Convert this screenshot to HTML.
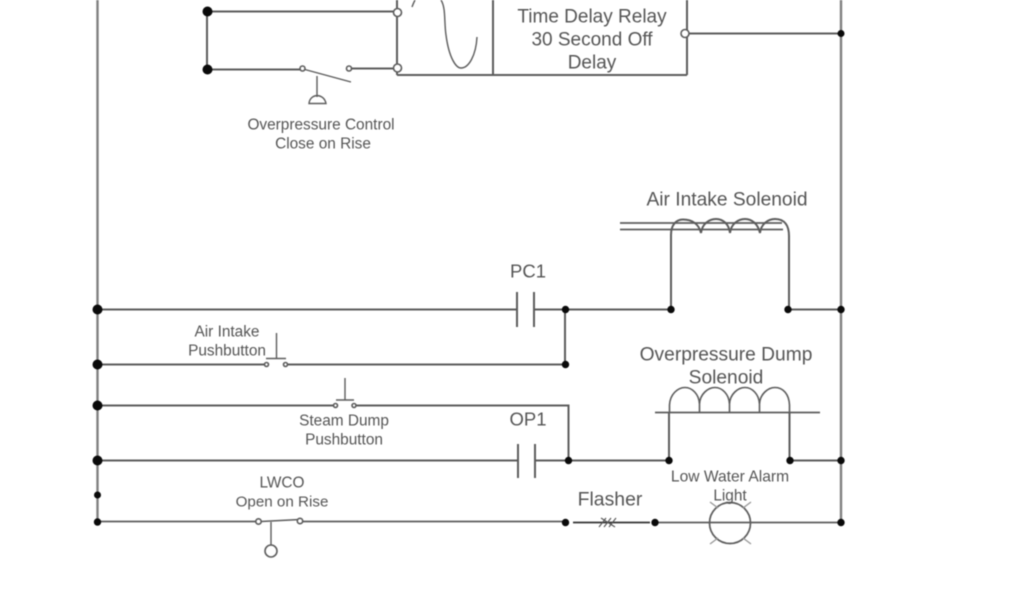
<!DOCTYPE html>
<html>
<head>
<meta charset="utf-8">
<style>
html,body{margin:0;padding:0;background:#fff;width:1024px;height:600px;overflow:hidden}
svg{display:block;filter:blur(0.45px)}
text{font-family:"Liberation Sans",sans-serif;fill:#555;text-anchor:middle}
.w{stroke:#5c5c5c;stroke-width:2;fill:none}
.t{stroke:#5c5c5c;stroke-width:1.4;fill:none}
.o{fill:#fff;stroke:#5c5c5c;stroke-width:1.6}
</style>
</head>
<body>
<svg width="1024" height="600" viewBox="0 0 1024 600" xmlns="http://www.w3.org/2000/svg">
<rect width="1024" height="600" fill="#fff"/>
<!-- rails -->
<path class="w" style="stroke:#808080;stroke-width:2.4" d="M97.500 0V522M841 0V522"/>
<!-- top section -->
<path class="w" d="M207 11.500H397M207 11.500V69M207 69.500H302M349 68.500H397M397 0V75M397 75H687M493 0V75M687 0V75M685 33.500H841"/>
<path class="t" d="M303 69L351 82M317 76V97"/>
<path class="t" d="M309 103.500C310 93 324 93 326 103.500Z"/>
<path class="t" d="M412 7C413 4 414 2 415 0M441 0C446 8 444 22 446 35C449 58 456 68 461 68C469 68 476 55 477 37"/>
<circle class="o" cx="397.500" cy="12.500" r="4"/>
<circle class="o" cx="397.500" cy="68" r="4"/>
<circle class="o" cx="302.500" cy="68.500" r="2.500"/>
<circle class="o" cx="349" cy="68.500" r="2.500"/>
<circle class="o" cx="685" cy="33.500" r="4"/>
<circle cx="207.500" cy="11.500" r="5" fill="#0a0a0a"/>
<circle cx="207.500" cy="69.500" r="5" fill="#0a0a0a"/>
<circle cx="841" cy="33.500" r="3.500" fill="#0a0a0a"/>
<text x="592" y="22.500" font-size="19">Time Delay Relay</text>
<text x="592" y="45.500" font-size="19">30 Second Off</text>
<text x="592" y="68.500" font-size="19">Delay</text>
<text x="321" y="129.500" font-size="15.400">Overpressure Control</text>
<text x="323" y="148.500" font-size="15.400">Close on Rise</text>
<!-- Air intake rung -->
<path class="w" d="M97 309.500H517M534 309.500H671M565 309.500V364.500M97 364.500H265M288 364.500H566M788 309.500H841"/>
<path class="w" d="M517 292V327M534 292V327"/>
<path class="w" style="stroke-width:1.700" d="M620 223H782M620 229.500H783"/>
<path class="w" d="M671 309V235C671 225 676 219.500 683 219.500C692 219.500 699 224 701 233C702 224 709 219 716 219C723 219 729 224 730 233C731 224 738 219 745 219C752 219 758 224 760 233C761 224 768 219 775 219C785 219 789 226 789 236V309"/>
<circle cx="671" cy="309.500" r="3.700" fill="#0a0a0a"/>
<circle cx="788" cy="309.500" r="3.700" fill="#0a0a0a"/>
<circle cx="841" cy="309.500" r="3.700" fill="#0a0a0a"/>
<circle cx="565.500" cy="309.500" r="3.700" fill="#0a0a0a"/>
<circle cx="565.500" cy="364.500" r="3.700" fill="#0a0a0a"/>
<circle cx="97.500" cy="309.500" r="5" fill="#0a0a0a"/>
<circle cx="97.500" cy="364.500" r="5" fill="#0a0a0a"/>
<text x="727" y="205.500" font-size="19.200">Air Intake Solenoid</text>
<text x="528" y="277.500" font-size="18.500">PC1</text>
<text x="227" y="336.500" font-size="15.400">Air Intake</text>
<text x="227" y="355.500" font-size="15.400">Pushbutton</text>
<!-- pushbutton 1 -->
<path class="t" d="M266 358.500H286M276.500 333V358"/>
<circle class="o" cx="266.500" cy="364.500" r="2"/>
<circle class="o" cx="285.500" cy="364.500" r="2"/>
<!-- steam dump -->
<path class="w" d="M97 405.500H335M354 405.500H568.500V461M97 460.500H518M535 460.500H669M790 460.500H841"/>
<path class="t" d="M336 400H354M345 378V400"/>
<circle class="o" cx="335.500" cy="405.500" r="2"/>
<circle class="o" cx="354" cy="405.500" r="2"/>
<circle cx="97.500" cy="405.500" r="5" fill="#0a0a0a"/>
<circle cx="97.500" cy="460.500" r="5" fill="#0a0a0a"/>
<text x="344" y="425.500" font-size="15.400">Steam Dump</text>
<text x="344" y="444.500" font-size="15.400">Pushbutton</text>
<text x="528" y="425.500" font-size="18.500">OP1</text>
<path class="w" d="M518 444V478M535 444V478"/>
<!-- overpressure coil -->
<path class="w" style="stroke-width:1.700" d="M655 412.500H820"/>
<path class="t" style="stroke-width:1.600" d="M669.500 412V405C670 394 678 387.500 685 387.500C692 387.500 699 394 699.500 404V412M699.500 404C700 394 708 387.500 715 387.500C722 387.500 729 394 729.500 404V412M729.500 404C730 394 738 387.500 745 387.500C752 387.500 759 394 759.500 404V412M759.500 404C760 394 768 387.500 775 387.500C783 387.500 789 394 789.500 405V412"/>
<path class="w" d="M669 412V460M789.500 412V460"/>
<circle cx="568.500" cy="460.500" r="3.700" fill="#0a0a0a"/>
<circle cx="669" cy="460.500" r="3.700" fill="#0a0a0a"/>
<circle cx="790" cy="460.500" r="3.700" fill="#0a0a0a"/>
<circle cx="841" cy="460.500" r="3.700" fill="#0a0a0a"/>
<text x="726" y="360.500" font-size="19.200">Overpressure Dump</text>
<text x="726" y="383.500" font-size="19.200">Solenoid</text>
<!-- LWCO rung -->
<path class="w" style="stroke-width:1.800" d="M97 521.500H256M303 521.500H565M655 522.500H841"/>
<path class="t" d="M261 521.500L300 519.500M271 522V546"/>
<circle class="o" cx="258.500" cy="521.500" r="2.700"/>
<circle class="o" cx="300" cy="521" r="2.700"/>
<circle class="o" cx="271" cy="551" r="6"/>
<circle cx="97.500" cy="495" r="3.500" fill="#0a0a0a"/>
<circle cx="97.500" cy="522" r="3.700" fill="#0a0a0a"/>
<circle cx="565.500" cy="522.500" r="3.700" fill="#0a0a0a"/>
<circle cx="655" cy="522.500" r="3.700" fill="#0a0a0a"/>
<circle cx="841" cy="522.500" r="3.700" fill="#0a0a0a"/>
<text x="282" y="487.500" font-size="15.400">LWCO</text>
<text x="282" y="506.500" font-size="15.200">Open on Rise</text>
<text x="610" y="505.500" font-size="19.400">Flasher</text>
<path d="M573 522.500H650" stroke="#333" stroke-width="1.800" fill="none"/>
<path d="M599 527L606 518M604 527L611 518M609 527L616 518M601 518L615 527" stroke="#555" stroke-width="1.100" fill="none"/>
<circle cx="730" cy="523" r="20.500" fill="none" stroke="#5c5c5c" stroke-width="1.700"/>
<path class="t" style="stroke:#999" d="M710 502L718 508M751 502L743 508M710 544L718 538M751 544L743 538"/>
<text x="730" y="481.500" font-size="15.600">Low Water Alarm</text>
<text x="730" y="500.500" font-size="15.400">Light</text>
</svg>
</body>
</html>
